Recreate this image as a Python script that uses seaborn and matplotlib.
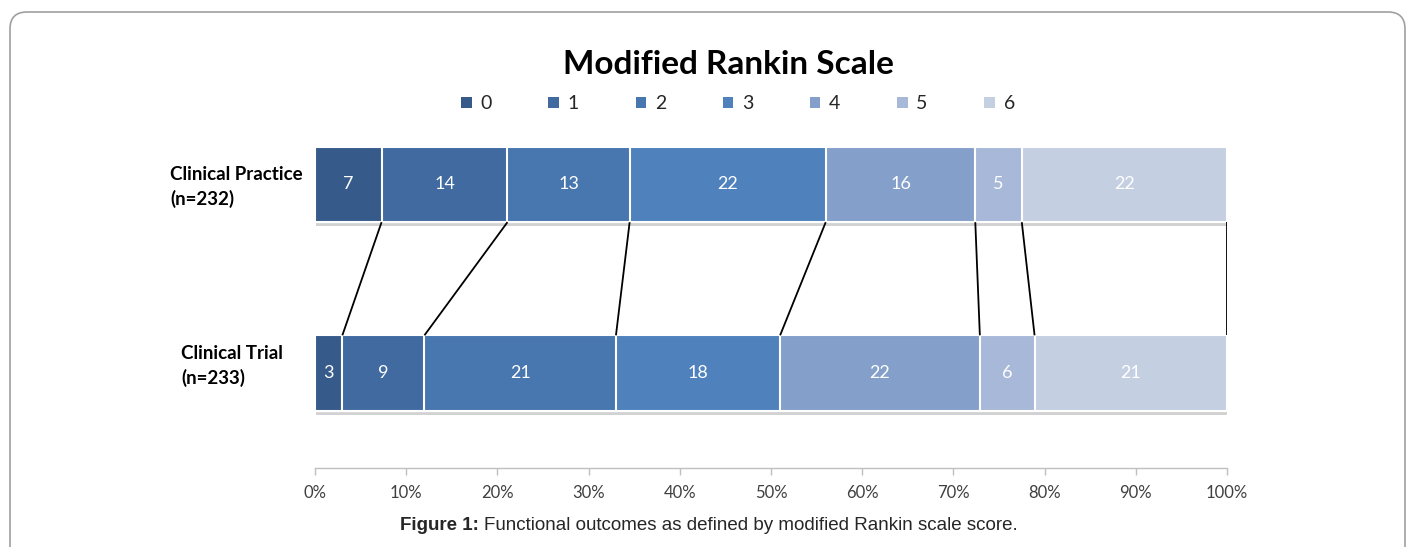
import matplotlib
matplotlib.use("Agg")
import matplotlib.pyplot as plt
import matplotlib.patheffects as pe
from matplotlib.patches import FancyBboxPatch, Patch
import numpy as np
import pandas as pd
import seaborn as sns

# data
groups = ["Clinical Practice\n(n=232)", "Clinical Trial\n(n=233)"]
scores = ["0", "1", "2", "3", "4", "5", "6"]
practice_pct = [7.3, 13.8, 13.4, 21.5, 16.4, 5.1, 22.5]
trial_pct = [3.0, 9.0, 21.0, 18.0, 21.9, 6.0, 21.1]
practice_lbl = [7, 14, 13, 22, 16, 5, 22]
trial_lbl = [3, 9, 21, 18, 22, 6, 21]
xticks = [0, 10, 20, 30, 40, 50, 60, 70, 80, 90, 100]
colors = ["#365A89", "#406AA0", "#4876AE", "#4F81BD", "#84A0CA", "#A8B8D8", "#C5CFE2"]

sns.set_theme(style="white")
plt.rcParams["font.family"] = ["Lato", "DejaVu Sans"]

W, H = 1414, 547
fig = plt.figure(figsize=(W / 100, H / 100), dpi=100)
ax = fig.add_axes([315 / W, 1 - 468 / H, (1227 - 315) / W, (468 - 130) / H])

cum = pd.DataFrame({
    "group": np.repeat(groups, len(scores)),
    "score": scores * 2,
    "pct": practice_pct + trial_pct,
})
cum["cum"] = cum.groupby("group", sort=False)["pct"].cumsum()
cum["left"] = cum["cum"] - cum["pct"]

bw = 0.4
# stacked: draw cumulative totals from the top score downward
for i in range(len(scores) - 1, -1, -1):
    sub = cum[cum["score"] == scores[i]]
    sns.barplot(data=sub, x="cum", y="group", orient="h", color=colors[i],
                saturation=1, width=bw, edgecolor="white", linewidth=1.5, ax=ax,
                order=groups)
    if i == len(scores) - 1:
        for p in ax.patches:
            p.set_path_effects([pe.withSimplePatchShadow(offset=(1, -3), shadow_rgbFace="#808080", alpha=0.35),
                                pe.Normal()])

# value labels
for gi, lbls in enumerate([practice_lbl, trial_lbl]):
    sub = cum[cum["group"] == groups[gi]]
    for (_, r), lab in zip(sub.iterrows(), lbls):
        ax.text(r["left"] + r["pct"] / 2, gi, str(lab), ha="center", va="center",
                color="white", fontsize=13)

# connector lines between segment boundaries
pc = cum[cum["group"] == groups[0]]["cum"].values
tc = cum[cum["group"] == groups[1]]["cum"].values
for a, b in zip(pc, tc):
    ax.plot([a, b], [bw / 2, 1 - bw / 2], color="black", lw=1.3, solid_capstyle="butt")

ax.set_xlim(0, 100)
ax.set_ylim(1 + 95 / 188.5, -54.5 / 188.5)
ax.set_xticks(xticks)
ax.set_xticklabels([f"{t}%" for t in xticks], fontsize=12, color="#404040")
ax.tick_params(axis="x", length=5, width=1, color="#BFBFBF", direction="out", bottom=True, pad=7)
ax.set_yticks([])
ax.set_xlabel("")
ax.set_ylabel("")
for s in ["top", "right", "left"]:
    ax.spines[s].set_visible(False)
ax.spines["bottom"].set_color("#BFBFBF")
ax.spines["bottom"].set_linewidth(1)

# category labels
fig.text(170 / W, 1 - 187 / H, groups[0], ha="left", va="center", fontsize=13.5,
         fontweight="bold", color="black", linespacing=1.4)
fig.text(181 / W, 1 - 366 / H, groups[1], ha="left", va="center", fontsize=13.5,
         fontweight="bold", color="black", linespacing=1.4)

fig.text(728 / W, 1 - 64 / H, "Modified Rankin Scale", ha="center", va="center",
         fontsize=24, fontweight="bold", color="black")

handles = [Patch(facecolor=c, edgecolor="none") for c in colors]
fig.legend(handles, scores, loc="center", bbox_to_anchor=(738 / W, 1 - 104 / H), ncol=7,
           frameon=False, fontsize=14, handlelength=0.55, handleheight=0.55,
           handletextpad=0.45, columnspacing=2.9)

# caption
fig.text(479 / W, 1 - 525 / H, "Figure 1:", ha="right", va="center", fontsize=13.5,
         fontweight="bold", family="Liberation Sans")
fig.text(484 / W, 1 - 525 / H, "Functional outcomes as defined by modified Rankin scale score.",
         ha="left", va="center", fontsize=13.5, family="Liberation Sans")

# rounded outer frame
frame = FancyBboxPatch((10 / W, -0.05), (1405 - 10) / W, (1 - 12 / H) + 0.05,
                       boxstyle="round,pad=0,rounding_size=0.012", transform=fig.transFigure,
                       fill=False, edgecolor="#A0A0A0", linewidth=1.2, clip_on=False,
                       mutation_aspect=W / H)
fig.patches.append(frame)

fig.savefig("out.png", dpi=100)
